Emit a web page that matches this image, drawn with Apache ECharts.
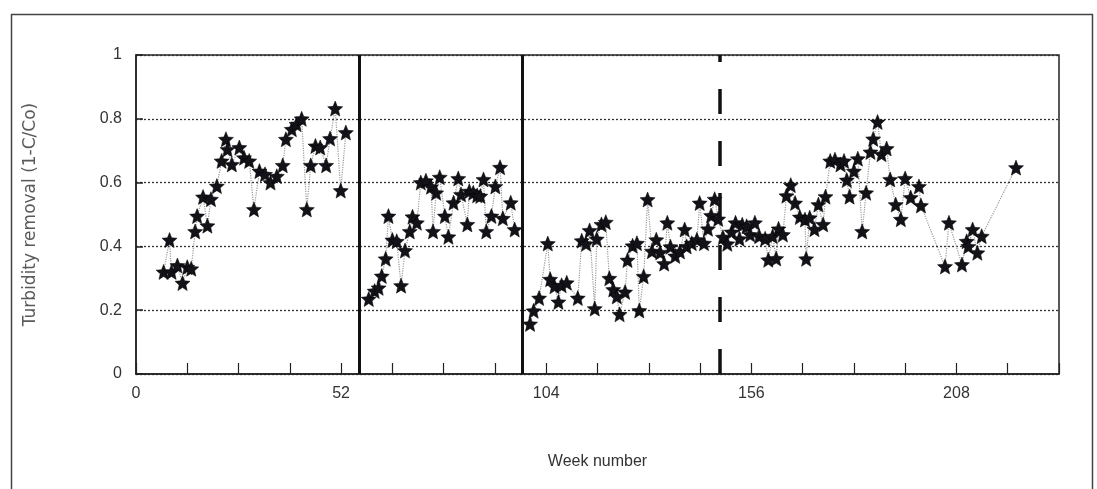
<!DOCTYPE html>
<html>
<head>
<meta charset="utf-8">
<script src="https://cdn.jsdelivr.net/npm/echarts@6/dist/echarts.min.js"></script>
<style>html,body{margin:0;padding:0;background:#fff;}#c{width:1097px;height:489px;}</style>
</head>
<body>
<div id="c"></div>
<script>
// Week number vs turbidity removal (1-C/Co)
const seg1 = [[7,0.32],[8.5,0.42],[9,0.32],[10.5,0.34],[11.8,0.285],[13,0.335],[14,0.33],[15,0.447],[15.5,0.495],[17,0.555],[18.1,0.465],[19,0.548],[20.5,0.589],[21.7,0.668],[22.8,0.736],[23.2,0.704],[24.3,0.657],[26.2,0.71],[27.4,0.678],[28.7,0.668],[29.9,0.516],[31.3,0.636],[32.7,0.626],[34.1,0.6],[35.7,0.62],[37.2,0.654],[38,0.736],[39.5,0.767],[40.7,0.783],[42,0.8],[43.3,0.516],[44.3,0.654],[45.5,0.715],[46.7,0.71],[48.2,0.654],[49.2,0.738],[50.5,0.832],[51.9,0.575],[53.2,0.757]];
const seg2 = [[59,0.235],[60.5,0.26],[61.5,0.27],[62.3,0.307],[63.3,0.361],[64,0.495],[65,0.42],[66.1,0.416],[67.2,0.277],[68.2,0.387],[69.4,0.447],[70.1,0.493],[71.2,0.474],[72.2,0.6],[73.5,0.606],[74.8,0.587],[75.3,0.447],[76.1,0.568],[77,0.617],[78.3,0.495],[79.2,0.43],[80.5,0.537],[81.7,0.613],[82.4,0.563],[84,0.469],[84.5,0.573],[85.5,0.568],[86.5,0.56],[87.3,0.558],[88.1,0.61],[88.8,0.447],[90.1,0.495],[91.1,0.588],[92.3,0.648],[93,0.488],[95,0.537],[96,0.453]];
const seg3 = [[99.9,0.157],[100.8,0.198],[102.2,0.238],[104.4,0.409],[105,0.297],[106.1,0.275],[107.1,0.226],[107.9,0.278],[109.2,0.286],[112,0.238],[113,0.418],[114.1,0.408],[115,0.45],[116.3,0.205],[116.8,0.423],[118,0.469],[119.1,0.476],[120,0.3],[121,0.265],[121.9,0.243],[122.6,0.187],[124,0.257],[124.6,0.357],[125.9,0.402],[127,0.41],[127.6,0.199],[128.7,0.306],[129.7,0.547],[130.8,0.385],[131.9,0.421],[132.9,0.381],[133.9,0.346],[134.7,0.474],[135.5,0.399],[136.7,0.37],[137.9,0.384],[139.1,0.453],[139.6,0.4],[140.9,0.41],[142.2,0.421],[142.9,0.536],[144,0.41],[145,0.455],[145.8,0.497],[146.7,0.548],[147.6,0.486]];
const seg4 = [[148.8,0.429],[149.9,0.408],[151,0.445],[152,0.474],[153,0.424],[153.7,0.468],[154.8,0.463],[155.7,0.437],[156.9,0.474],[158,0.432],[159.5,0.424],[160.3,0.358],[161.4,0.432],[162.3,0.362],[162.9,0.455],[164,0.437],[164.9,0.559],[166,0.592],[167.1,0.536],[168.3,0.492],[169.6,0.484],[169.9,0.361],[170.8,0.49],[172,0.454],[173,0.531],[174.2,0.469],[174.8,0.556],[176,0.668],[177.2,0.672],[178.6,0.657],[179.5,0.668],[180.2,0.608],[180.9,0.556],[182,0.636],[183,0.675],[184.1,0.447],[185.1,0.568],[186.2,0.696],[186.9,0.737],[188,0.79],[189,0.689],[190.3,0.707],[191.2,0.61],[192.6,0.531],[193.9,0.485],[195,0.613],[196.4,0.553],[198.5,0.588],[199,0.528],[205.1,0.337],[206.1,0.474],[209.4,0.343],[210.6,0.416],[211,0.4],[212.1,0.453],[213.3,0.38],[214.4,0.432],[223.1,0.647]];
const xLabelWeeks = [0, 52, 104, 156, 208];
const yTicks = [0, 0.2, 0.4, 0.6, 0.8, 1];
const solidBreaks = [56.5, 98];
const dashedBreaks = [148];

const STAR = 'path://M10,0L12.65,6.36L19.51,6.91L14.28,11.39L15.88,18.09L10,14.5L4.12,18.09L5.72,11.39L0.49,6.91L7.36,6.36Z';
const FONT = 'Liberation Sans, Arial, sans-serif';

function lineSeries(data, extra) {
  return Object.assign({
    type: 'line',
    data: data,
    symbol: STAR,
    symbolSize: 15,
    itemStyle: { color: '#121218', borderColor: '#000', borderWidth: 0.5 },
    lineStyle: { color: '#9a9a9a', width: 1.2, type: 'dotted' },
    animation: false,
    z: 3
  }, extra || {});
}

const marks = solidBreaks.map(v => ({ xAxis: v, lineStyle: { type: 'solid', width: 3, color: '#111' } }))
  .concat(dashedBreaks.map(v => ({ xAxis: v, lineStyle: { type: [25, 27], width: 3.5, color: '#111' } })));

const chart = echarts.init(document.getElementById('c'), null, { renderer: 'canvas' });
chart.setOption({
  backgroundColor: '#fff',
  animation: false,
  graphic: [{
    type: 'rect', left: 9, top: 12, silent: true,
    shape: { width: 1081, height: 500 },
    style: { fill: 'none', stroke: '#444', lineWidth: 1.5 }
  }],
  grid: { left: 136, right: 38, top: 55, bottom: 115, show: true, borderColor: '#222', borderWidth: 1.5, backgroundColor: 'transparent' },
  xAxis: {
    type: 'value', min: 0, max: 234, interval: 13,
    name: 'Week number', nameLocation: 'middle', nameGap: 80,
    nameTextStyle: { fontFamily: FONT, fontSize: 16, color: '#333' },
    axisLine: { show: true, onZero: false, lineStyle: { color: '#222', width: 1.5 } },
    axisTick: { show: true, inside: true, length: 11, lineStyle: { color: '#222', width: 1.2 } },
    axisLabel: {
      fontFamily: FONT, fontSize: 16, color: '#333', margin: 12,
      formatter: v => (xLabelWeeks.indexOf(v) >= 0 ? String(v) : '')
    },
    splitLine: { show: false }
  },
  yAxis: {
    type: 'value', min: 0, max: 1, interval: 0.2,
    name: 'Turbidity removal (1-C/Co)', nameLocation: 'middle', nameGap: 97,
    nameTextStyle: { fontFamily: 'DejaVu Sans, sans-serif', fontSize: 17, color: '#5a5a5a' },
    axisLine: { show: true, lineStyle: { color: '#222', width: 1.5 } },
    axisTick: { show: true, inside: true, length: 7, lineStyle: { color: '#222', width: 1.5 } },
    axisLabel: {
      fontFamily: FONT, fontSize: 16, color: '#333', margin: 14,
      formatter: v => { const t = yTicks.find(y => Math.abs(y - v) < 1e-9); return t === undefined ? '' : String(t); }
    },
    splitLine: { show: true, lineStyle: { color: '#333', width: 1.3, type: [2, 2] } }
  },
  series: [
    lineSeries(seg1, {
      markLine: { silent: true, symbol: 'none', label: { show: false }, animation: false, data: marks }
    }),
    lineSeries(seg2),
    lineSeries(seg3.concat(seg4))
  ]
});
</script>
</body>
</html>
